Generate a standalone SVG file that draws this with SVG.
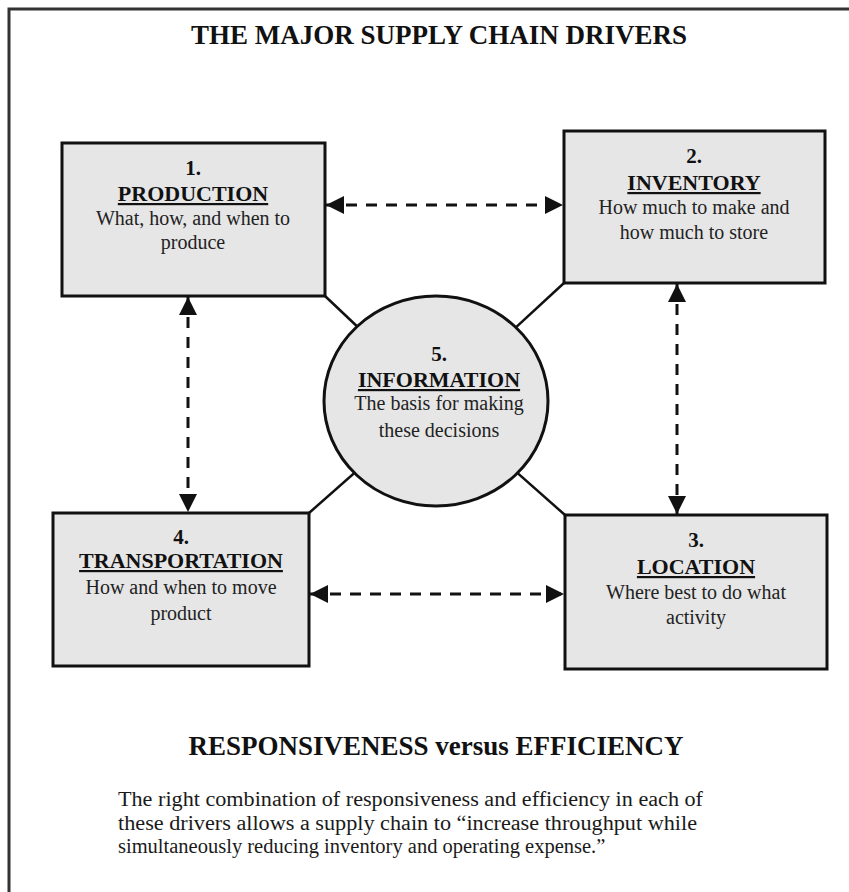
<svg xmlns="http://www.w3.org/2000/svg" width="849" height="892" viewBox="0 0 849 892">
  <style>
    .frame { fill: none; stroke: #333; stroke-width: 3; }
    .box { fill: #e6e6e6; stroke: #111; stroke-width: 3; }
    .spoke { stroke: #111; stroke-width: 2.5; }
    .link { fill: none; stroke: #111; stroke-width: 3; stroke-dasharray: 11 9; }
    .txt { font-family: "Liberation Serif", "Times New Roman", serif; fill: #111; text-anchor: middle; }
    .num { font-size: 21px; font-weight: bold; }
    .head { font-size: 22px; font-weight: bold; text-decoration: underline; }
    .desc { font-size: 20px; fill: #222; }
    .title { font-size: 27px; font-weight: bold; }
    .para { font-family: "Liberation Serif", "Times New Roman", serif; fill: #1a1a1a; font-size: 20.5px; }
  </style>
  <defs>
    <marker id="tip" markerUnits="userSpaceOnUse" markerWidth="20" markerHeight="20" refX="18" refY="9" orient="auto-start-reverse">
      <path d="M0,0 L18,9 L0,18 Z" fill="#111"/>
    </marker>
  </defs>

  <rect width="849" height="892" fill="#fff"/>
  <!-- page frame: top and left rules -->
  <path class="frame" d="M9,892 L9,9 L849,9"/>

  <text class="txt title" x="439" y="44">THE MAJOR SUPPLY CHAIN DRIVERS</text>

  <!-- spokes from box corners to the centre -->
  <g id="spokes">
    <line class="spoke" x1="325" y1="296" x2="436" y2="401"/>
    <line class="spoke" x1="564" y1="283" x2="436" y2="401"/>
    <line class="spoke" x1="309" y1="513" x2="436" y2="401"/>
    <line class="spoke" x1="565" y1="515" x2="436" y2="401"/>
  </g>

  <g id="connectors">
    <line class="link" x1="326" y1="205" x2="563" y2="205" marker-start="url(#tip)" marker-end="url(#tip)"/>
    <line class="link" x1="310" y1="594" x2="564" y2="594" marker-start="url(#tip)" marker-end="url(#tip)"/>
    <line class="link" x1="188" y1="297" x2="188" y2="512" marker-start="url(#tip)" marker-end="url(#tip)"/>
    <line class="link" x1="677" y1="284" x2="677" y2="514" marker-start="url(#tip)" marker-end="url(#tip)"/>
  </g>

  <g id="production">
    <rect class="box" x="62" y="143" width="263" height="153"/>
    <text class="txt num" x="193" y="175">1.</text>
    <text class="txt head" x="193" y="201">PRODUCTION</text>
    <text class="txt desc" x="193" y="225">What, how, and when to</text>
    <text class="txt desc" x="193" y="249">produce</text>
  </g>

  <g id="inventory">
    <rect class="box" x="564" y="131" width="261" height="152"/>
    <text class="txt num" x="694" y="163">2.</text>
    <text class="txt head" x="694" y="190">INVENTORY</text>
    <text class="txt desc" x="694" y="214">How much to make and</text>
    <text class="txt desc" x="694" y="239">how much to store</text>
  </g>

  <g id="location">
    <rect class="box" x="565" y="515" width="262" height="154"/>
    <text class="txt num" x="696" y="547">3.</text>
    <text class="txt head" x="696" y="574">LOCATION</text>
    <text class="txt desc" x="696" y="599">Where best to do what</text>
    <text class="txt desc" x="696" y="624">activity</text>
  </g>

  <g id="transportation">
    <rect class="box" x="53" y="513" width="256" height="153"/>
    <text class="txt num" x="181" y="544">4.</text>
    <text class="txt head" x="181" y="568">TRANSPORTATION</text>
    <text class="txt desc" x="181" y="594">How and when to move</text>
    <text class="txt desc" x="181" y="620">product</text>
  </g>

  <g id="information">
    <ellipse class="box" cx="436" cy="401" rx="112" ry="105"/>
    <text class="txt num" x="439" y="361">5.</text>
    <text class="txt head" x="439" y="387">INFORMATION</text>
    <text class="txt desc" x="439" y="410">The basis for making</text>
    <text class="txt desc" x="439" y="437">these decisions</text>
  </g>

  <text class="txt title" x="436" y="755">RESPONSIVENESS versus EFFICIENCY</text>
  <text class="para" x="118" y="806" textLength="585" lengthAdjust="spacingAndGlyphs">The right combination of responsiveness and efficiency in each of</text>
  <text class="para" x="118" y="830" textLength="579" lengthAdjust="spacingAndGlyphs">these drivers allows a supply chain to “increase throughput while</text>
  <text class="para" x="118" y="853">simultaneously reducing inventory and operating expense.”</text>
</svg>
